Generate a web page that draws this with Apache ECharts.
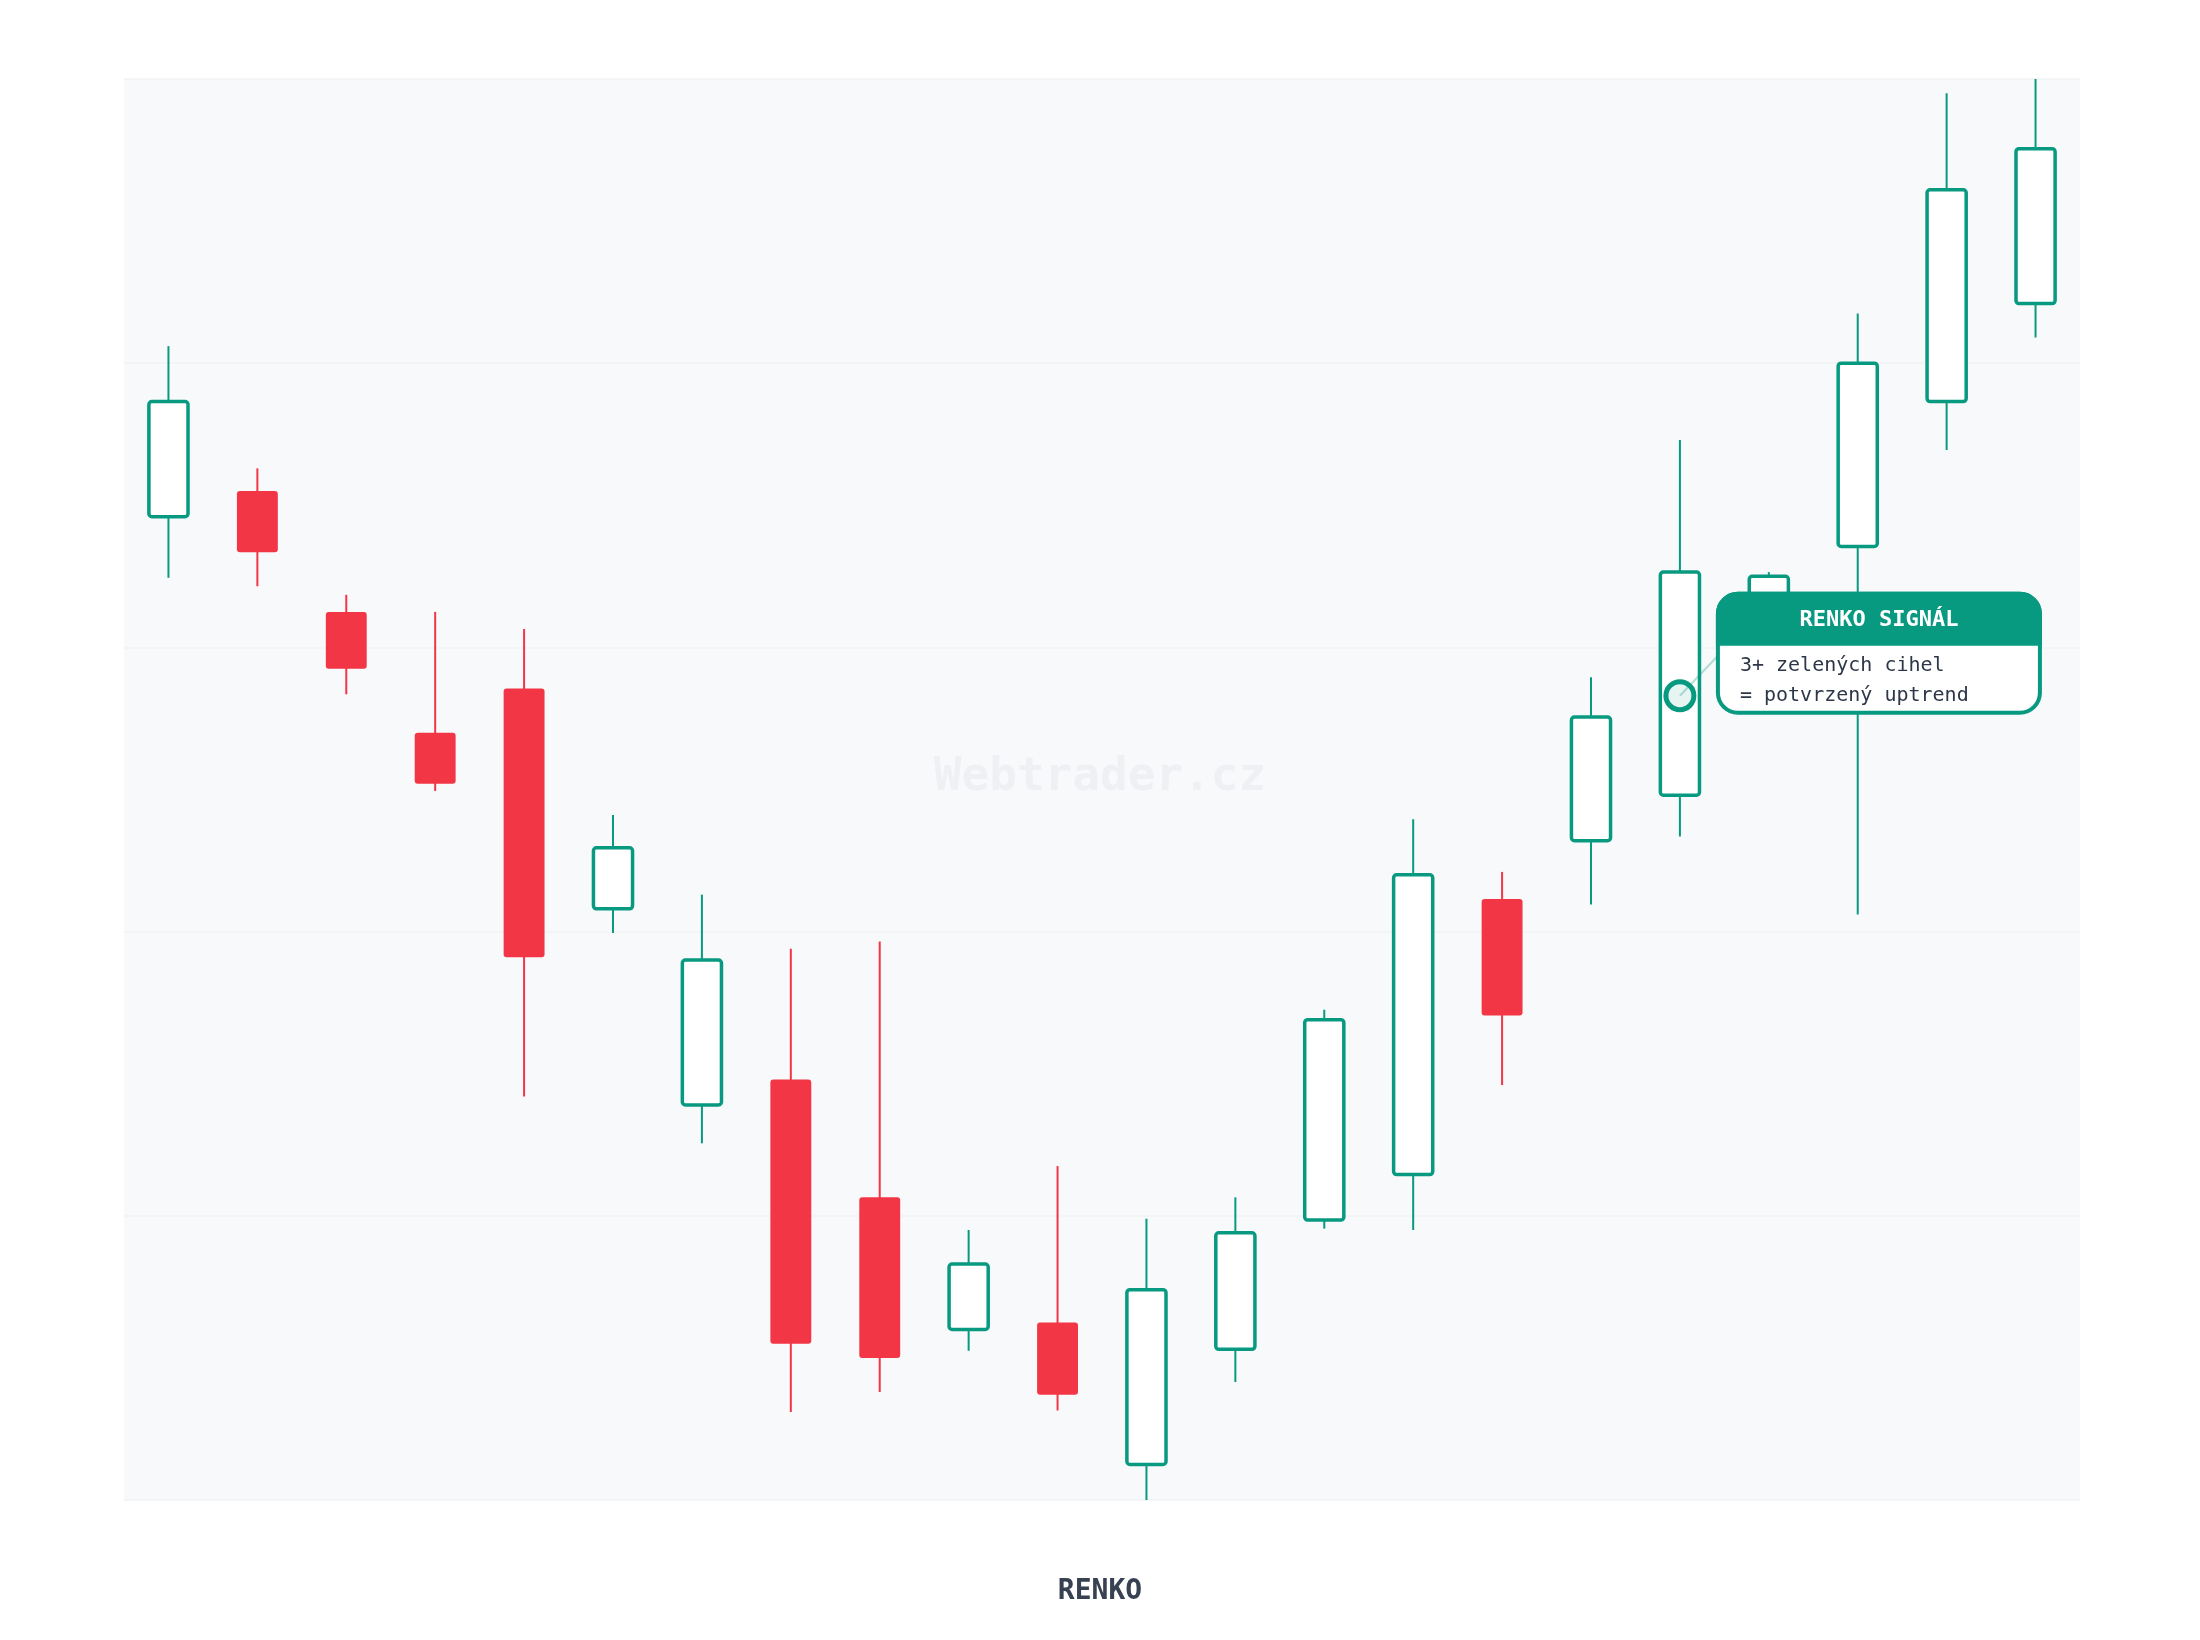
<!DOCTYPE html>
<html>
<head>
<meta charset="utf-8">
<title>Renko</title>
<script src="https://cdn.jsdelivr.net/npm/echarts@6/dist/echarts.min.js"></script>
<style>
  html, body { margin: 0; padding: 0; background: #fff; }
  #chart { width: 2200px; height: 1640px; }
</style>
</head>
<body>
<div id="chart"></div>
<script>
// bricks, left to right
const categories = ['1','2','3','4','5','6','7','8','9','10','11','12','13','14','15','16','17','18','19','20','21','22'];
const opens  = [69.2, 71.0, 62.5, 54.0, 57.1, 41.6, 27.8, 29.6, 21.3, 12.0, 12.5,  2.5, 10.6, 19.7, 22.9, 42.3, 46.4, 49.6, 61.5, 67.1, 77.3, 84.2];
const closes = [77.3, 66.7, 58.5, 50.4, 38.2, 45.9, 38.0, 11.0, 10.0, 16.6,  7.4, 14.8, 18.8, 33.8, 44.0, 34.1, 55.1, 65.3, 65.0, 80.0, 92.2, 95.1];
const lows   = [64.9, 64.3, 56.7, 49.9, 28.4, 39.9, 25.1,  6.2,  7.6, 10.5,  6.3,  0.0,  8.3, 19.1, 19.0, 29.2, 41.9, 46.7, 60.0, 41.2, 73.9, 81.8];
const highs  = [81.2, 72.6, 63.7, 62.5, 61.3, 48.2, 42.6, 38.8, 39.3, 19.0, 23.5, 19.8, 21.3, 34.5, 47.9, 44.2, 57.9, 74.6, 65.3, 83.5, 99.0, 100.0];

// annotation
const signalIndex = 17;
const signalValue = 56.6;
const signalTitle = 'RENKO SIGNÁL';
const signalLines = ['3+ zelených cihel', '= potvrzený uptrend'];

const GREEN = '#089981';
const RED = '#f23645';
const MONO = '"DejaVu Sans Mono", "Liberation Mono", monospace';

const data = categories.map((c, i) => [i, opens[i], closes[i], lows[i], highs[i]]);

function renderCandle(params, api) {
  const i = api.value(0);
  const o = api.value(1), c = api.value(2), l = api.value(3), h = api.value(4);
  const pO = api.coord([i, o]);
  const pC = api.coord([i, c]);
  const pL = api.coord([i, l]);
  const pH = api.coord([i, h]);
  const up = c >= o;
  const color = up ? GREEN : RED;
  const w = api.size([1, 0])[0] * (up ? 0.44 : 0.46);
  const top = Math.min(pO[1], pC[1]);
  const bot = Math.max(pO[1], pC[1]);
  return {
    type: 'group',
    children: [
      { type: 'line', shape: { x1: pH[0], y1: pH[1], x2: pL[0], y2: pL[1] },
        style: { stroke: color, lineWidth: 2 } },
      { type: 'rect', shape: { x: pO[0] - w / 2, y: top, width: w, height: bot - top, r: 3 },
        style: up ? { fill: '#fff', stroke: color, lineWidth: 3.5 } : { fill: color } }
    ]
  };
}

const watermark = {
  type: 'text', z: 1, x: 1100, y: 778,
  style: { text: 'Webtrader.cz', fontFamily: MONO, fontSize: 46, fontWeight: 'bold',
           fill: '#eef0f4', align: 'center', verticalAlign: 'middle' }
};

const chart = echarts.init(document.getElementById('chart'));
chart.setOption({
  animation: false,
  backgroundColor: '#ffffff',
  title: {
    text: 'RENKO', left: 'center', top: 1578, padding: 0,
    textStyle: { fontFamily: MONO, fontSize: 28, fontWeight: 'bold', color: '#374151' }
  },
  grid: {
    left: 124, right: 120, top: 79, bottom: 140,
    show: true, backgroundColor: '#f8f9fb', borderWidth: 0
  },
  xAxis: {
    type: 'category', data: categories, boundaryGap: true,
    axisLine: { show: false }, axisTick: { show: false }, axisLabel: { show: false },
    splitLine: { show: false }
  },
  yAxis: {
    type: 'value', min: 0, max: 100, interval: 20,
    axisLine: { show: false }, axisTick: { show: false }, axisLabel: { show: false },
    splitLine: { show: true, lineStyle: { color: '#f0f2f5', width: 1.5 } }
  },
  graphic: [watermark],
  series: [{
    type: 'custom', renderItem: renderCandle, data: data,
    encode: { x: 0, y: [1, 2, 3, 4] }, z: 5
  }]
});

// signal bubble, anchored to the brick it points at
const p = chart.convertToPixel({ gridIndex: 0 }, [signalIndex, signalValue]);
const bx = p[0] + 38, by = p[1] - 102, bw = 322, bh = 119;
chart.setOption({
  graphic: [watermark, {
    type: 'line', z: 100,
    shape: { x1: p[0], y1: p[1], x2: bx, y2: by + 62 },
    style: { stroke: 'rgba(8,153,129,0.3)', lineWidth: 2 }
  }, {
    type: 'circle', z: 101,
    shape: { cx: p[0], cy: p[1], r: 14 },
    style: { fill: 'rgba(8,153,129,0.1)', stroke: GREEN, lineWidth: 5 }
  }, {
    type: 'rect', z: 100,
    shape: { x: bx, y: by, width: bw, height: bh, r: 20 },
    style: { fill: '#ffffff', stroke: GREEN, lineWidth: 4 }
  }, {
    type: 'rect', z: 101,
    shape: { x: bx, y: by, width: bw, height: 50, r: [20, 20, 0, 0] },
    style: { fill: GREEN, stroke: GREEN, lineWidth: 4 }
  }, {
    type: 'text', z: 102, x: bx + bw / 2, y: by + 27,
    style: { text: signalTitle, fontFamily: MONO, fontSize: 22, fontWeight: 'bold',
             fill: '#ffffff', align: 'center', verticalAlign: 'middle' }
  }, {
    type: 'text', z: 102, x: bx + 22, y: by + 72,
    style: { text: signalLines[0], fontFamily: MONO, fontSize: 20,
             fill: '#2d3748', align: 'left', verticalAlign: 'middle' }
  }, {
    type: 'text', z: 102, x: bx + 22, y: by + 102,
    style: { text: signalLines[1], fontFamily: MONO, fontSize: 20,
             fill: '#2d3748', align: 'left', verticalAlign: 'middle' }
  }]
});
</script>
</body>
</html>
